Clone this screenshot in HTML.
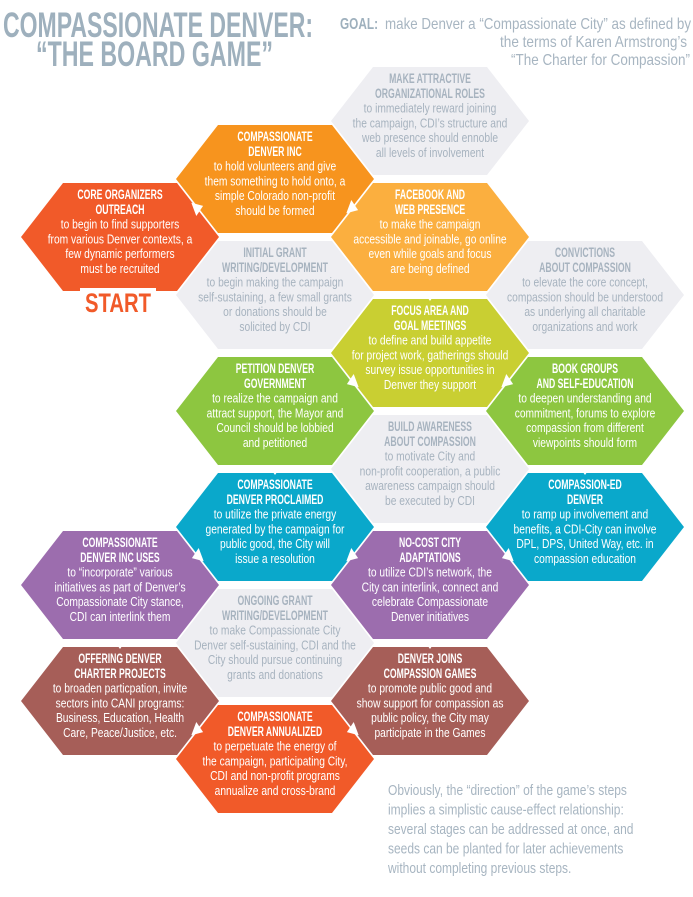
<!DOCTYPE html>
<html><head><meta charset="utf-8"><style>
html,body{margin:0;padding:0;background:#fff;width:693px;height:897px;overflow:hidden}
svg{display:block;font-family:"Liberation Sans",Arial,sans-serif}
.ti{font-weight:bold;font-size:14px;text-anchor:middle}
.bo{font-size:12.5px;text-anchor:middle}
</style></head><body>
<svg width="693" height="897" viewBox="0 0 693 897">
<defs>
<polygon id="h" points="-99,0 -57,-54 57,-54 99,0 57,54 -57,54"/>
<polygon id="aur" points="5.6,-2.1 -1.2,8 -6.2,-5.2" fill="#fff"/>
<polygon id="adr" points="5.6,2.1 -6.2,5.2 -1.2,-8" fill="#fff"/>
<polygon id="adl" points="-5.6,2.1 6.2,5.2 1.2,-8" fill="#fff"/>
<polygon id="ad" points="0,6 -7,-4 7,-4" fill="#fff"/>
</defs>

<text x="3" y="37" font-size="35" font-weight="bold" fill="#9EB0BD" textLength="310" lengthAdjust="spacingAndGlyphs">COMPASSIONATE DENVER:</text>
<text x="36" y="66" font-size="35" font-weight="bold" fill="#9EB0BD" textLength="237" lengthAdjust="spacingAndGlyphs">“THE BOARD GAME”</text>
<text x="340" y="29" font-size="16" font-weight="bold" fill="#9EB0BD" textLength="38" lengthAdjust="spacingAndGlyphs">GOAL:</text>
<text x="385" y="29" font-size="16" fill="#A7B5C1" textLength="306" lengthAdjust="spacingAndGlyphs">make Denver a “Compassionate City” as defined by</text>
<text x="500" y="47" font-size="16" fill="#A7B5C1" textLength="187" lengthAdjust="spacingAndGlyphs">the terms of Karen Armstrong’s</text>
<text x="511" y="65" font-size="16" fill="#A7B5C1" textLength="179" lengthAdjust="spacingAndGlyphs">“The Charter for Compassion”</text>

<g fill="#EEEEF2">
<use href="#h" x="430" y="121"/><use href="#h" x="275" y="295"/><use href="#h" x="585" y="295"/>
<use href="#h" x="430" y="469"/><use href="#h" x="275" y="643"/>
</g>
<use href="#h" x="275" y="179" fill="#F7941E"/>
<use href="#h" x="120" y="237" fill="#F15A29"/>
<use href="#h" x="430" y="237" fill="#FBAF3F"/>
<use href="#h" x="430" y="353" fill="#C9CF32"/>
<use href="#h" x="275" y="411" fill="#8DC640"/>
<use href="#h" x="585" y="411" fill="#8DC640"/>
<use href="#h" x="275" y="527" fill="#0AA8CB"/>
<use href="#h" x="585" y="527" fill="#0AA8CB"/>
<use href="#h" x="120" y="585" fill="#9C6DAE"/>
<use href="#h" x="430" y="585" fill="#9C6DAE"/>
<use href="#h" x="120" y="701" fill="#A65E58"/>
<use href="#h" x="430" y="701" fill="#A65E58"/>
<use href="#h" x="275" y="759" fill="#F15A29"/>

<use href="#aur" x="197.5" y="208"/>
<use href="#adr" x="352.5" y="208"/>
<use href="#ad" x="430" y="295"/>
<use href="#adl" x="352.5" y="382"/>
<use href="#adr" x="507.5" y="382"/>
<use href="#ad" x="275" y="469"/>
<use href="#ad" x="585" y="469"/>
<use href="#adl" x="197.5" y="556"/>
<use href="#adr" x="352.5" y="556"/>
<use href="#adl" x="507.5" y="556"/>
<use href="#ad" x="120" y="643"/>
<use href="#ad" x="430" y="643"/>
<use href="#adr" x="197.5" y="730"/>
<use href="#adl" x="352.5" y="730"/>

<rect x="80" y="288" width="76" height="28" fill="#fff"/>
<text x="118" y="312" font-size="27" font-weight="bold" fill="#F15A29" text-anchor="middle" transform="translate(118,0) scale(.75,1) translate(-118,0)">START</text>

<g fill="#A7B3BF" transform="translate(430,121)"><g class="ti" transform="scale(.62,1)"><text y="-38">MAKE ATTRACTIVE</text><text y="-23.2">ORGANIZATIONAL ROLES</text></g><g class="bo" transform="scale(.82,1)"><text y="-8.4">to immediately reward joining</text><text y="6.4">the campaign, CDI’s structure and</text><text y="21.2">web presence should ennoble</text><text y="36">all levels of involvement</text></g></g>

<g fill="#fff" transform="translate(275,179)"><g class="ti" transform="scale(.62,1)"><text y="-38">COMPASSIONATE</text><text y="-23.2">DENVER INC</text></g><g class="bo" transform="scale(.82,1)"><text y="-8.4">to hold volunteers and give</text><text y="6.4">them something to hold onto, a</text><text y="21.2">simple Colorado non-profit</text><text y="36">should be formed</text></g></g>

<g fill="#fff" transform="translate(120,237)"><g class="ti" transform="scale(.62,1)"><text y="-38">CORE ORGANIZERS</text><text y="-23.2">OUTREACH</text></g><g class="bo" transform="scale(.82,1)"><text y="-8.4">to begin to find supporters</text><text y="6.4">from various Denver contexts, a</text><text y="21.2">few dynamic performers</text><text y="36">must be recruited</text></g></g>

<g fill="#fff" transform="translate(430,237)"><g class="ti" transform="scale(.62,1)"><text y="-38">FACEBOOK AND</text><text y="-23.2">WEB PRESENCE</text></g><g class="bo" transform="scale(.82,1)"><text y="-8.4">to make the campaign</text><text y="6.4">accessible and joinable, go online</text><text y="21.2">even while goals and focus</text><text y="36">are being defined</text></g></g>

<g fill="#A7B3BF" transform="translate(275,295)"><g class="ti" transform="scale(.62,1)"><text y="-38">INITIAL GRANT</text><text y="-23.2">WRITING/DEVELOPMENT</text></g><g class="bo" transform="scale(.82,1)"><text y="-8.4">to begin making the campaign</text><text y="6.4">self-sustaining, a few small grants</text><text y="21.2">or donations should be</text><text y="36">solicited by CDI</text></g></g>

<g fill="#A7B3BF" transform="translate(585,295)"><g class="ti" transform="scale(.62,1)"><text y="-38">CONVICTIONS</text><text y="-23.2">ABOUT COMPASSION</text></g><g class="bo" transform="scale(.82,1)"><text y="-8.4">to elevate the core concept,</text><text y="6.4">compassion should be understood</text><text y="21.2">as underlying all charitable</text><text y="36">organizations and work</text></g></g>

<g fill="#fff" transform="translate(430,353)"><g class="ti" transform="scale(.62,1)"><text y="-38">FOCUS AREA AND</text><text y="-23.2">GOAL MEETINGS</text></g><g class="bo" transform="scale(.82,1)"><text y="-8.4">to define and build appetite</text><text y="6.4">for project work, gatherings should</text><text y="21.2">survey issue opportunities in</text><text y="36">Denver they support</text></g></g>

<g fill="#fff" transform="translate(275,411)"><g class="ti" transform="scale(.62,1)"><text y="-38">PETITION DENVER</text><text y="-23.2">GOVERNMENT</text></g><g class="bo" transform="scale(.82,1)"><text y="-8.4">to realize the campaign and</text><text y="6.4">attract support, the Mayor and</text><text y="21.2">Council should be lobbied</text><text y="36">and petitioned</text></g></g>

<g fill="#fff" transform="translate(585,411)"><g class="ti" transform="scale(.62,1)"><text y="-38">BOOK GROUPS</text><text y="-23.2">AND SELF-EDUCATION</text></g><g class="bo" transform="scale(.82,1)"><text y="-8.4">to deepen understanding and</text><text y="6.4">commitment, forums to explore</text><text y="21.2">compassion from different</text><text y="36">viewpoints should form</text></g></g>

<g fill="#A7B3BF" transform="translate(430,469)"><g class="ti" transform="scale(.62,1)"><text y="-38">BUILD AWARENESS</text><text y="-23.2">ABOUT COMPASSION</text></g><g class="bo" transform="scale(.82,1)"><text y="-8.4">to motivate City and</text><text y="6.4">non-profit cooperation, a public</text><text y="21.2">awareness campaign should</text><text y="36">be executed by CDI</text></g></g>

<g fill="#fff" transform="translate(275,527)"><g class="ti" transform="scale(.62,1)"><text y="-38">COMPASSIONATE</text><text y="-23.2">DENVER PROCLAIMED</text></g><g class="bo" transform="scale(.82,1)"><text y="-8.4">to utilize the private energy</text><text y="6.4">generated by the campaign for</text><text y="21.2">public good, the City will</text><text y="36">issue a resolution</text></g></g>

<g fill="#fff" transform="translate(585,527)"><g class="ti" transform="scale(.62,1)"><text y="-38">COMPASSION-ED</text><text y="-23.2">DENVER</text></g><g class="bo" transform="scale(.82,1)"><text y="-8.4">to ramp up involvement and</text><text y="6.4">benefits, a CDI-City can involve</text><text y="21.2">DPL, DPS, United Way, etc. in</text><text y="36">compassion education</text></g></g>

<g fill="#fff" transform="translate(120,585)"><g class="ti" transform="scale(.62,1)"><text y="-38">COMPASSIONATE</text><text y="-23.2">DENVER INC USES</text></g><g class="bo" transform="scale(.82,1)"><text y="-8.4">to “incorporate” various</text><text y="6.4">initiatives as part of Denver’s</text><text y="21.2">Compassionate City stance,</text><text y="36">CDI can interlink them</text></g></g>

<g fill="#fff" transform="translate(430,585)"><g class="ti" transform="scale(.62,1)"><text y="-38">NO-COST CITY</text><text y="-23.2">ADAPTATIONS</text></g><g class="bo" transform="scale(.82,1)"><text y="-8.4">to utilize CDI’s network, the</text><text y="6.4">City can interlink, connect and</text><text y="21.2">celebrate Compassionate</text><text y="36">Denver initiatives</text></g></g>

<g fill="#A7B3BF" transform="translate(275,643)"><g class="ti" transform="scale(.62,1)"><text y="-38">ONGOING GRANT</text><text y="-23.2">WRITING/DEVELOPMENT</text></g><g class="bo" transform="scale(.82,1)"><text y="-8.4">to make Compassionate City</text><text y="6.4">Denver self-sustaining, CDI and the</text><text y="21.2">City should pursue continuing</text><text y="36">grants and donations</text></g></g>

<g fill="#fff" transform="translate(120,701)"><g class="ti" transform="scale(.62,1)"><text y="-38">OFFERING DENVER</text><text y="-23.2">CHARTER PROJECTS</text></g><g class="bo" transform="scale(.82,1)"><text y="-8.4">to broaden particpation, invite</text><text y="6.4">sectors into CANI programs:</text><text y="21.2">Business, Education, Health</text><text y="36">Care, Peace/Justice, etc.</text></g></g>

<g fill="#fff" transform="translate(430,701)"><g class="ti" transform="scale(.62,1)"><text y="-38">DENVER JOINS</text><text y="-23.2">COMPASSION GAMES</text></g><g class="bo" transform="scale(.82,1)"><text y="-8.4">to promote public good and</text><text y="6.4">show support for compassion as</text><text y="21.2">public policy, the City may</text><text y="36">participate in the Games</text></g></g>

<g fill="#fff" transform="translate(275,759)"><g class="ti" transform="scale(.62,1)"><text y="-38">COMPASSIONATE</text><text y="-23.2">DENVER ANNUALIZED</text></g><g class="bo" transform="scale(.82,1)"><text y="-8.4">to perpetuate the energy of</text><text y="6.4">the campaign, participating City,</text><text y="21.2">CDI and non-profit programs</text><text y="36">annualize and cross-brand</text></g></g>

<g fill="#A7B5C1" font-size="15" transform="translate(388,0) scale(.8,1)">
<text x="0" y="795">Obviously, the “direction” of the game’s steps</text>
<text x="0" y="814.5">implies a simplistic cause-effect relationship:</text>
<text x="0" y="834">several stages can be addressed at once, and</text>
<text x="0" y="853.5">seeds can be planted for later achievements</text>
<text x="0" y="873">without completing previous steps.</text>
</g>
</svg>
</body></html>
